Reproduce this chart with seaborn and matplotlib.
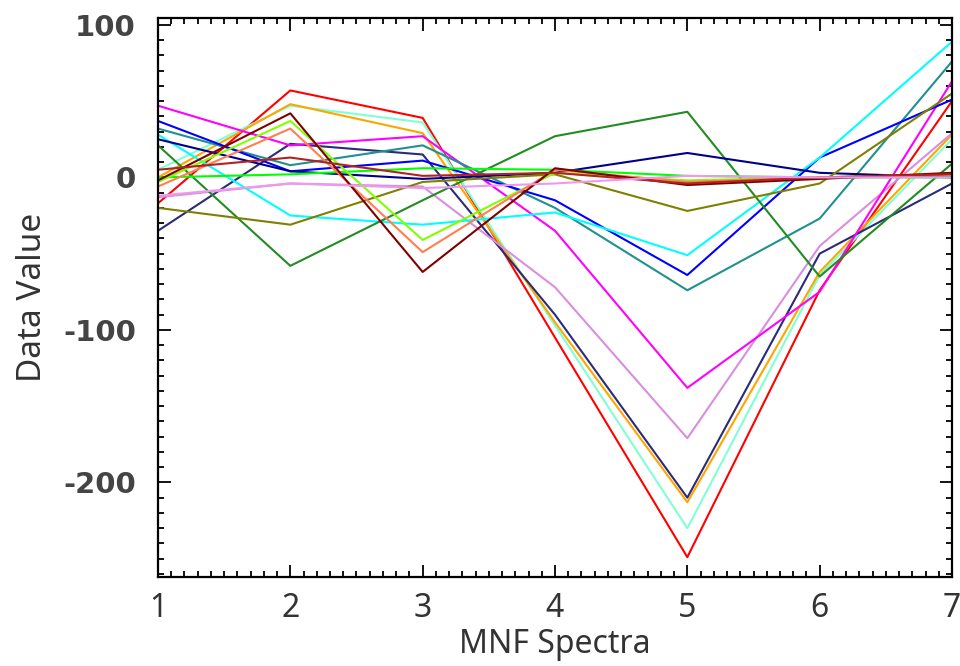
import matplotlib
matplotlib.use('Agg')
import pandas as pd
import matplotlib.pyplot as plt
import seaborn as sns
from matplotlib.ticker import MultipleLocator

# Data
spectra = [1, 2, 3, 4, 5, 6, 7]

red = [-17, 57, 39, -105, -249, -74, 50]
aquamarine = [5, 47, 36, -97, -230, -64, 25]
orange = [0, 48, 29, -95, -213, -62, 28]
navy = [-35, 22, 15, -90, -210, -50, -4]
plum = [-13, -4, -6, -72, -171, -45, 29]
magenta = [47, 21, 27, -35, -138, -75, 63]
teal = [32, 8, 21, -20, -74, -27, 76]
blue = [37, 4, 11, -15, -64, 13, 51]
cyan = [28, -25, -31, -23, -51, 13, 89]
green = [21, -58, -15, 27, 43, -65, 9]
darknavy = [25, 4, -1, 3, 16, 3, 0]
olive = [-20, -31, -3, 2, -22, -4, 55]
lime = [0, 2, 6, 5, 1, 0, 0]
chartreuse = [-3, 37, -41, 3, -2, 0, 2]
coral = [-6, 32, -49, 5, -3, 0, 2]
maroon = [-2, 42, -62, 6, -5, -1, 3]
firebrick = [5, 13, 1, 3, -4, 0, 2]
violet = [-12, -4, -7, -4, 1, 0, 0]

series = {
    'red': red, 'aquamarine': aquamarine, 'orange': orange, 'navy': navy,
    'plum': plum, 'magenta': magenta, 'teal': teal, 'blue': blue,
    'cyan': cyan, 'green': green, 'darknavy': darknavy, 'olive': olive,
    'lime': lime, 'chartreuse': chartreuse, 'coral': coral, 'maroon': maroon,
    'firebrick': firebrick, 'violet': violet,
}
colors = {
    'red': '#ff0000', 'aquamarine': '#7fffd4', 'orange': '#ffa500',
    'navy': '#2b2b7a', 'plum': '#d98ee0', 'magenta': '#ff00ff',
    'teal': '#209090', 'blue': '#0000ff', 'cyan': '#00ffff',
    'green': '#228b22', 'darknavy': '#00008b', 'olive': '#808000',
    'lime': '#00ff00', 'chartreuse': '#80ff00', 'coral': '#ff7f50',
    'maroon': '#800000', 'firebrick': '#b22222', 'violet': '#ee99ee',
}

rows = []
for name, vals in series.items():
    for x, y in zip(spectra, vals):
        rows.append({'spectra': x, 'value': y, 'line': name})
df = pd.DataFrame(rows)

sns.set_style('white')
plt.rcParams['font.family'] = ['Noto Sans', 'DejaVu Sans']
plt.rcParams['axes.unicode_minus'] = False

fig = plt.figure(figsize=(9.6, 6.66), dpi=100)
ax = fig.add_axes([158 / 960, 1 - 577 / 666, (952 - 158) / 960, (577 - 18) / 666])

sns.lineplot(data=df, x='spectra', y='value', hue='line', palette=colors,
             linewidth=1.5, legend=False, ax=ax, sort=False)

ax.set_xlim(1, 7)
ax.set_ylim(-262, 104.5)
ax.xaxis.set_major_locator(MultipleLocator(1))
ax.xaxis.set_minor_locator(MultipleLocator(0.1))
ax.yaxis.set_major_locator(MultipleLocator(100))
ax.yaxis.set_minor_locator(MultipleLocator(10))
ax.tick_params(which='both', direction='in', top=True, right=True, left=True, bottom=True,
               color='black', width=1.3)
ax.tick_params(which='major', length=9)
ax.tick_params(which='minor', length=4.5)
ax.tick_params(axis='x', which='major', pad=11, labelsize=23, labelcolor='#333333')
ax.tick_params(axis='y', which='major', pad=16, labelcolor='#444444')
for lbl in ax.get_yticklabels():
    lbl.set_fontfamily('DejaVu Sans')
    lbl.set_fontweight('bold')
    lbl.set_fontsize(21)
for s in ax.spines.values():
    s.set_linewidth(1.6)
    s.set_color('black')

ax.set_xlabel('MNF Spectra', fontsize=23, color='#333333', labelpad=2)
ax.set_ylabel('Data Value', fontsize=24, color='#333333', labelpad=10)

fig.savefig('out.png', dpi=100)
plt.close()
